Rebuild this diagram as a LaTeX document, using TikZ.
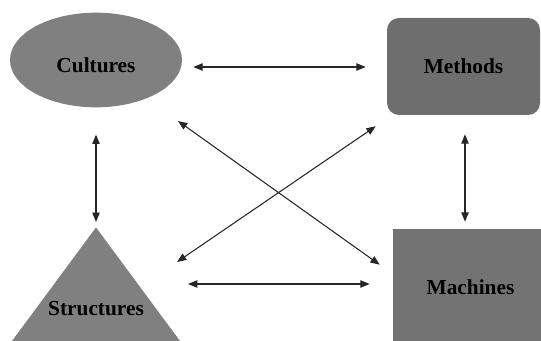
\documentclass[tikz,border=0pt]{standalone}
\usepackage{fontspec}
\setmainfont{Liberation Serif}
\usetikzlibrary{arrows.meta,positioning,shapes.geometric,calc}
\definecolor{cgray}{RGB}{128,128,128}
\definecolor{mdark}{RGB}{110,110,110}
\definecolor{mmid}{RGB}{115,115,115}
\tikzset{
  topic/.style={fill=#1, font=\rmfamily\fontsize{16}{19}\selectfont\bfseries, inner sep=0pt},
  link/.style={{Stealth[length=7pt,width=5.5pt,inset=0pt]}-{Stealth[length=7pt,width=5.5pt,inset=0pt]},
               line width=0.8pt, black!85},
}
\begin{document}
\begin{tikzpicture}[x=0.75pt, y=-0.75pt]
\useasboundingbox (0,0) rectangle (541,341);
\clip (0,0) rectangle (541,341);

% Four topics
\node[topic=cgray, ellipse, minimum width=129pt, minimum height=71pt,
      text height=18.5pt] (cult) at (96,60) {Cultures};
\node[topic=mdark, rectangle, rounded corners=9pt, minimum width=114.75pt,
      minimum height=72.75pt] (meth) at (463.5,66.5) {Methods};
\node[topic=mmid, rectangle, minimum width=116.25pt, minimum height=87pt] (mach) at (470.5,287) {Machines};
\node[topic=cgray, isosceles triangle, shape border rotate=90, isosceles triangle apex angle=73,
      minimum height=87pt, text depth=16.5pt, anchor=apex] (struc) at (96,227) {Structures};

% Connections
\draw[link] ($(cult.east)+(11,7)$) -- ($(meth.west)+(-21,0.5)$);
\draw[link] ($(cult.south)+(0,27)$) -- ($(struc.apex)+(0,-5)$);
\draw[link] ($(meth.south)+(1.5,19)$) -- ($(mach.north)+(-5.5,-7)$);
\draw[link] ($(struc.apex)+(92,57)$) -- ($(mach.west)+(-23,-3)$);
\draw[link] ($(cult.center)+(82,61)$) -- ($(mach.north west)+(-13,36)$);
\draw[link] ($(struc.apex)+(81,35)$) -- ($(meth.south west)+(-11,11)$);

\end{tikzpicture}
\end{document}
